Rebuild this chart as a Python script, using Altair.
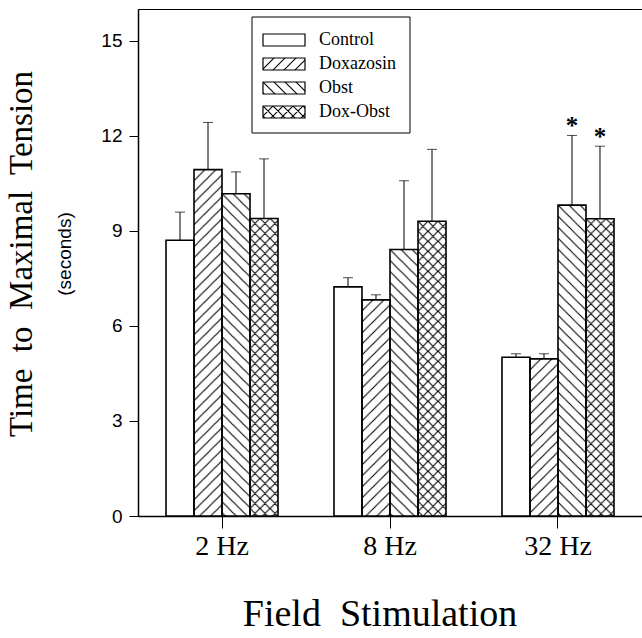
import base64
import altair as alt
import pandas as pd

# ---------------- data ----------------
freqs = ["2 Hz", "8 Hz", "32 Hz"]
series = ["Control", "Doxazosin", "Obst", "Dox-Obst"]

control_mean = [8.70, 7.23, 5.01]
control_upper = [9.59, 7.52, 5.12]
doxazosin_mean = [10.93, 6.82, 4.96]
doxazosin_upper = [12.42, 6.98, 5.12]
obst_mean = [10.17, 8.41, 9.81]
obst_upper = [10.86, 10.58, 12.01]
doxobst_mean = [9.39, 9.30, 9.38]
doxobst_upper = [11.27, 11.57, 11.67]

significant = [("32 Hz", "Obst"), ("32 Hz", "Dox-Obst")]
y_ticks = [0, 3, 6, 9, 12, 15]

rows = []
for s, means, uppers in zip(
    series,
    [control_mean, doxazosin_mean, obst_mean, doxobst_mean],
    [control_upper, doxazosin_upper, obst_upper, doxobst_upper],
):
    for f, m, u in zip(freqs, means, uppers):
        rows.append({"freq": f, "series": s, "mean": m, "upper": u,
                     "star": "*" if (f, s) in significant else ""})
df = pd.DataFrame(rows)
leg_df = pd.DataFrame({"series": series})


# ---------------- hatch patterns (SVG tiles as images) ----------------
def hatch_uri(kind, p):
    paths = []
    if kind in ("fwd", "cross"):
        paths.append(f"M0,{p} L{p},0 M-2,2 L2,-2 M{p-2},{p+2} L{p+2},{p-2}")
    if kind in ("back", "cross"):
        paths.append(f"M0,0 L{p},{p} M-2,{p-2} L2,{p+2} M{p-2},-2 L{p+2},2")
    svg = ('<svg xmlns="http://www.w3.org/2000/svg">'
           f'<defs><pattern id="h" patternUnits="userSpaceOnUse" width="{p}" height="{p}">'
           f'<path d="{" ".join(paths)}" stroke="black" stroke-width="1.1" fill="none"/>'
           '</pattern></defs>'
           '<rect x="0" y="0" width="100%" height="100%" fill="url(#h)"/></svg>')
    return "data:image/svg+xml;base64," + base64.b64encode(svg.encode()).decode()


patterns = {
    "Doxazosin": hatch_uri("fwd", 11),
    "Obst": hatch_uri("back", 11),
    "Dox-Obst": hatch_uri("cross", 10),
}

SERIF = "Liberation Serif"
SANS = "Liberation Sans"

x_enc = alt.X(
    "freq:N", sort=freqs,
    scale=alt.Scale(paddingInner=0.3333, paddingOuter=0.1667),
    axis=alt.Axis(title=None, labelAngle=0, labelFont=SERIF, labelFontSize=28,
                  labelColor="black", tickSize=12, tickColor="black",
                  domainColor="black", domainWidth=1.5, labelPadding=4),
)
xoff = alt.XOffset("series:N", sort=series, scale=alt.Scale(domain=series))
y_enc = alt.Y(
    "mean:Q", scale=alt.Scale(domain=[0, 16], nice=False),
    axis=alt.Axis(values=y_ticks, title=None, grid=False, labelFont=SANS,
                  labelFontSize=19, labelColor="black", tickSize=9,
                  tickColor="black", domainColor="black", domainWidth=1.5,
                  labelPadding=7),
)

base = alt.Chart(df).encode(x=x_enc, xOffset=xoff)

bar_fill = base.mark_bar(color="white").encode(y=y_enc)

image_layers = []
for name, uri in patterns.items():
    image_layers.append(
        base.transform_filter(alt.datum.series == name)
        .mark_image(aspect=False)
        .encode(y=alt.Y("mean:Q"), y2=alt.datum(0), url=alt.value(uri))
    )

bar_outline = base.mark_bar(fillOpacity=0, stroke="black", strokeWidth=1.6).encode(y=alt.Y("mean:Q"))
err_rule = base.mark_rule(color="black", strokeWidth=1).encode(y=alt.Y("mean:Q"), y2="upper:Q")
err_cap = base.mark_tick(color="black", size=10, thickness=1).encode(y=alt.Y("upper:Q"))
stars = (base.transform_filter(alt.datum.star != "")
         .mark_text(font=SERIF, fontSize=25, fontWeight="bold", baseline="alphabetic",
                    dy=-1, color="black")
         .encode(y=alt.Y("upper:Q"), text="star:N"))

main = alt.layer(bar_fill, *image_layers, bar_outline, err_rule, err_cap, stars)

# ---------------- legend ----------------
leg_y = alt.Y("series:N", sort=series,
              scale=alt.Scale(type="band", range=[19, 115], paddingInner=0, paddingOuter=0),
              axis=None)
one = alt.Data(values=[{}])

leg_box = alt.Chart(one).mark_rect(fill="white", stroke="black", strokeWidth=1).encode(
    x=alt.value(114), x2=alt.value(272), y=alt.value(8), y2=alt.value(124))
leg_imgs = []
for name, uri in patterns.items():
    leg_imgs.append(
        alt.Chart(leg_df).transform_filter(alt.datum.series == name)
        .mark_image(aspect=False, height=12)
        .encode(x=alt.value(125), x2=alt.value(167), y=leg_y, url=alt.value(uri))
    )
leg_sw = alt.Chart(leg_df).mark_rect(fillOpacity=0, stroke="black", strokeWidth=1.2, height=12).encode(
    x=alt.value(125), x2=alt.value(167), y=leg_y)
leg_txt = alt.Chart(leg_df).mark_text(align="left", baseline="middle", font=SERIF,
                                      fontSize=18, color="black").encode(
    x=alt.value(181), y=leg_y, text="series:N")
legend = alt.layer(leg_box, *leg_imgs, leg_sw, leg_txt)

# ---------------- titles ----------------
y_title = alt.Chart(one).mark_text(text="Time\u00a0 to\u00a0 Maximal\u00a0 Tension", angle=270,
                                   font=SERIF, fontSize=33, align="center",
                                   baseline="middle", color="black").encode(
    x=alt.value(-116), y=alt.value(245))
y_sub = alt.Chart(one).mark_text(text="(seconds)", angle=270, font=SANS, fontSize=19,
                                 align="center", baseline="middle", color="black").encode(
    x=alt.value(-73), y=alt.value(245))
x_title = alt.Chart(one).mark_text(text="Field\u00a0 Stimulation", font=SERIF, fontSize=38,
                                   align="center", baseline="alphabetic", color="black").encode(
    x=alt.value(242), y=alt.value(617))

chart = (
    alt.layer(main, legend, y_title, y_sub, x_title)
    .resolve_scale(y="independent")
    .properties(width=504, height=507,
                autosize=alt.AutoSizeParams(type="none"),
                padding={"left": 138, "top": 9, "right": 0, "bottom": 122},
                background="white")
    .configure_view(stroke="black", strokeWidth=1)
)

chart.save("out.html", embed_options={"renderer": "svg", "actions": False})
